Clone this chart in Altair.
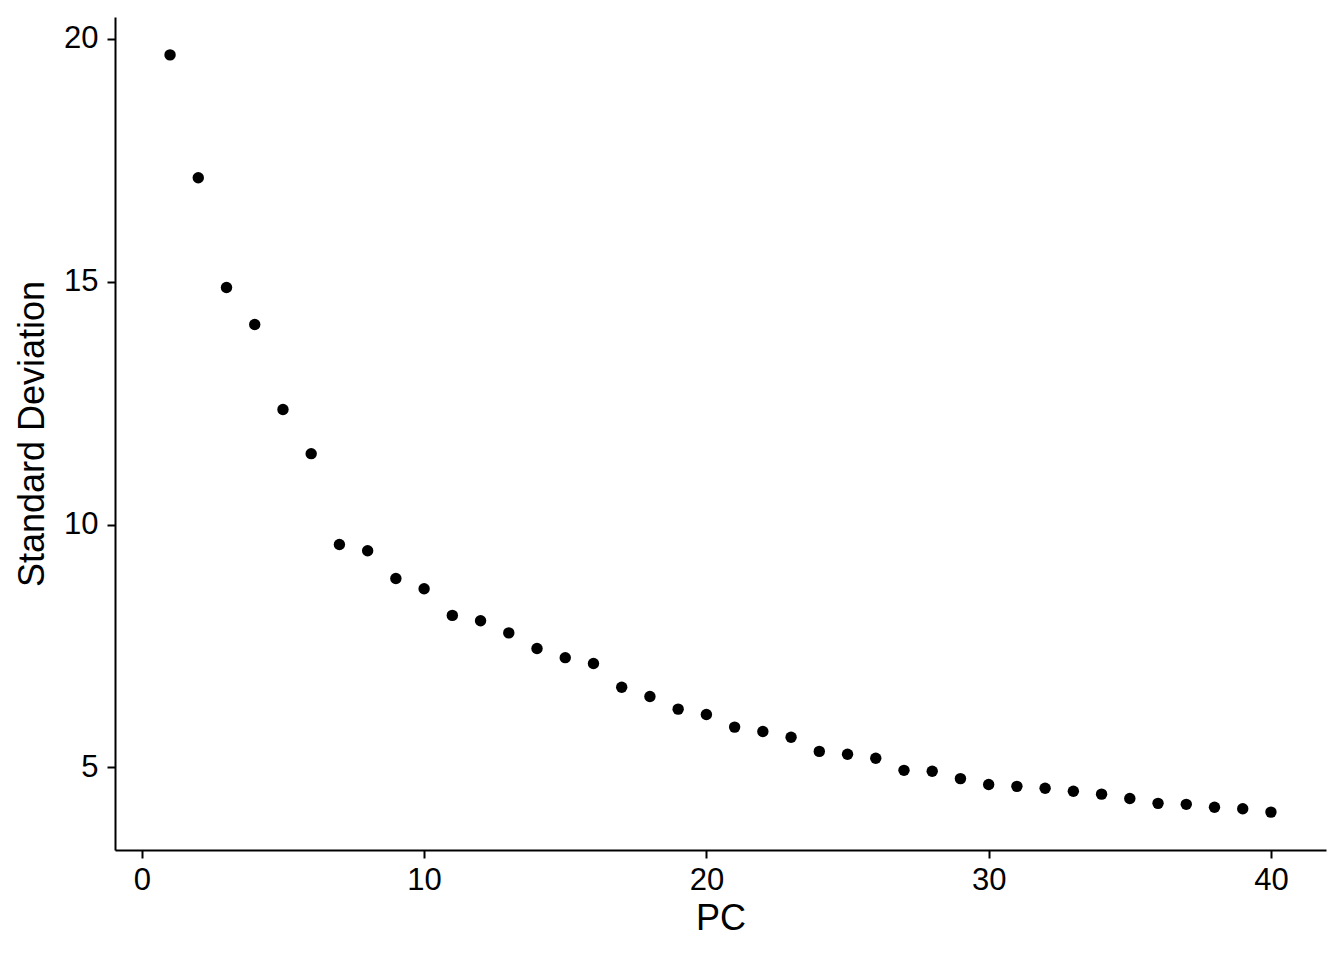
import altair as alt
import pandas as pd

pc = list(range(1, 41))
stdev = [19.67, 17.14, 14.88, 14.12, 12.37, 11.46, 9.59, 9.46, 8.89, 8.68,
         8.13, 8.02, 7.77, 7.45, 7.26, 7.14, 6.65, 6.46, 6.20, 6.09,
         5.83, 5.74, 5.62, 5.33, 5.27, 5.19, 4.94, 4.92, 4.77, 4.65,
         4.61, 4.57, 4.51, 4.45, 4.36, 4.26, 4.24, 4.18, 4.15, 4.08]

df = pd.DataFrame({"PC": pc, "SD": stdev})

FONT = "Liberation Sans"

chart = alt.Chart(df).mark_circle(size=130, color="black", opacity=1).encode(
    x=alt.X("PC:Q", title="PC",
            scale=alt.Scale(domain=[-0.95, 41.95], nice=False, zero=False),
            axis=alt.Axis(values=[0, 10, 20, 30, 40], grid=False)),
    y=alt.Y("SD:Q", title="Standard Deviation",
            scale=alt.Scale(domain=[3.30, 20.45], nice=False, zero=False),
            axis=alt.Axis(values=[5, 10, 15, 20], grid=False)),
).properties(
    width=1211, height=833,
    padding={"left": 107, "top": 9, "right": 10, "bottom": 100},
    autosize=alt.AutoSizeParams(type="none"),
).configure_view(
    stroke=None
).configure_axis(
    domainColor="black", domainWidth=2, tickColor="black", tickWidth=2,
    tickSize=8, labelColor="black", labelFont=FONT, labelFontSize=31,
    titleFont=FONT, titleFontSize=36, titleColor="black", titleFontWeight="normal",
).configure_axisX(
    titlePadding=6, labelPadding=7
).configure_axisY(
    titlePadding=12, labelPadding=9
)

chart.save("out.html", embed_options={"renderer": "svg", "actions": False})
